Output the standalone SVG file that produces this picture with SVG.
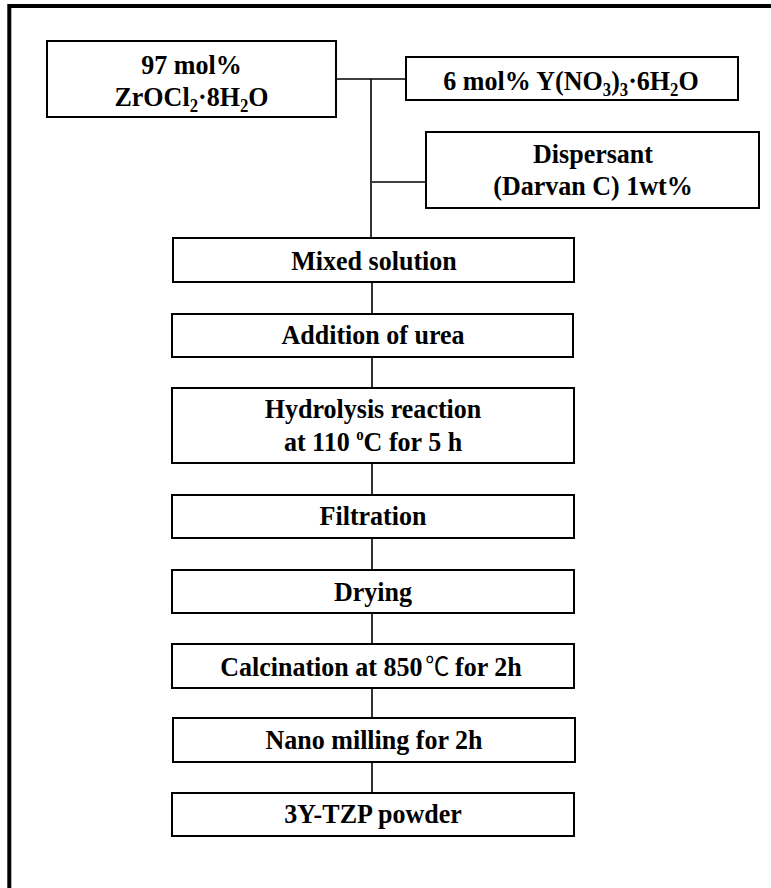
<svg xmlns="http://www.w3.org/2000/svg" width="771" height="888" viewBox="0 0 771 888">
<style>
.box{fill:#fff;stroke:#000;stroke-width:2}
.t{font-family:"Liberation Serif","Times New Roman",serif;font-weight:bold;font-size:28px;text-anchor:middle;fill:#000}
.s{font-size:18px}
.con{fill:none;stroke:#000;stroke-width:1.6}
</style>
<rect x="0" y="0" width="771" height="888" fill="#fff"/>
<rect x="9.3" y="6" width="800" height="920" fill="none" stroke="#000" stroke-width="4"/>
<g id="connectors">
<path class="con" d="M336 79H406M371 79V238M372 182H426M372 282V314M372 357V388M372 463V495M372 538V570M372 613V644M372 688V718M372 762V793"/>
</g>
<g id="n1"><rect class="box" x="47" y="41" width="289" height="76"/>
<text class="t" transform="matrix(0.93 0 0 1 191.5 0)" x="0" y="74">97 mol%</text>
<text class="t" transform="matrix(0.93 0 0 1 191.5 0)" x="0" y="106">ZrOCl<tspan class="s" dy="6">2</tspan><tspan dy="-6">·8H</tspan><tspan class="s" dy="6">2</tspan><tspan dy="-6">O</tspan></text></g>
<g id="n2"><rect class="box" x="406" y="57" width="332" height="43"/>
<text class="t" transform="matrix(0.93 0 0 1 571 0)" x="0" y="90">6 mol% Y(NO<tspan class="s" dy="6">3</tspan><tspan dy="-6">)</tspan><tspan class="s" dy="6">3</tspan><tspan dy="-6">·6H</tspan><tspan class="s" dy="6">2</tspan><tspan dy="-6">O</tspan></text></g>
<g id="n3"><rect class="box" x="426" y="132" width="333" height="76"/>
<text class="t" transform="matrix(0.93 0 0 1 593 0)" x="0" y="163">Dispersant</text>
<text class="t" transform="matrix(0.93 0 0 1 593 0)" x="0" y="195">(Darvan C) 1wt%</text></g>
<g id="n4"><rect class="box" x="173" y="238" width="401" height="44"/>
<text class="t" transform="matrix(0.93 0 0 1 374 0)" x="0" y="270">Mixed solution</text></g>
<g id="n5"><rect class="box" x="172" y="314" width="401" height="43"/>
<text class="t" transform="matrix(0.93 0 0 1 373 0)" x="0" y="344">Addition of urea</text></g>
<g id="n6"><rect class="box" x="172" y="388" width="402" height="75"/>
<text class="t" transform="matrix(0.93 0 0 1 373 0)" x="0" y="418">Hydrolysis reaction</text>
<text class="t" transform="matrix(0.93 0 0 1 373 0)" x="0" y="451">at 110 <tspan class="s" dy="-11" style="font-size:16px">o</tspan><tspan dy="11">C for 5 h</tspan></text></g>
<g id="n7"><rect class="box" x="172" y="495" width="402" height="43"/>
<text class="t" transform="matrix(0.93 0 0 1 373 0)" x="0" y="525">Filtration</text></g>
<g id="n8"><rect class="box" x="172" y="570" width="402" height="43"/>
<text class="t" transform="matrix(0.93 0 0 1 373 0)" x="0" y="601">Drying</text></g>
<g id="n9"><rect class="box" x="172" y="644" width="402" height="44"/>
<text class="t" transform="matrix(0.93 0 0 1 371 0)" x="0" y="676">Calcination at 850<tspan dx="3" style="font-family:'Noto Sans CJK KR','Noto Sans CJK SC',sans-serif;font-weight:normal;font-size:26px">℃</tspan><tspan dx="6">for 2h</tspan></text></g>
<g id="n10"><rect class="box" x="173" y="718" width="402" height="44"/>
<text class="t" transform="matrix(0.93 0 0 1 374 0)" x="0" y="749">Nano milling for 2h</text></g>
<g id="n11"><rect class="box" x="172" y="793" width="402" height="43"/>
<text class="t" transform="matrix(0.93 0 0 1 373 0)" x="0" y="823">3Y-TZP powder</text></g>
</svg>
